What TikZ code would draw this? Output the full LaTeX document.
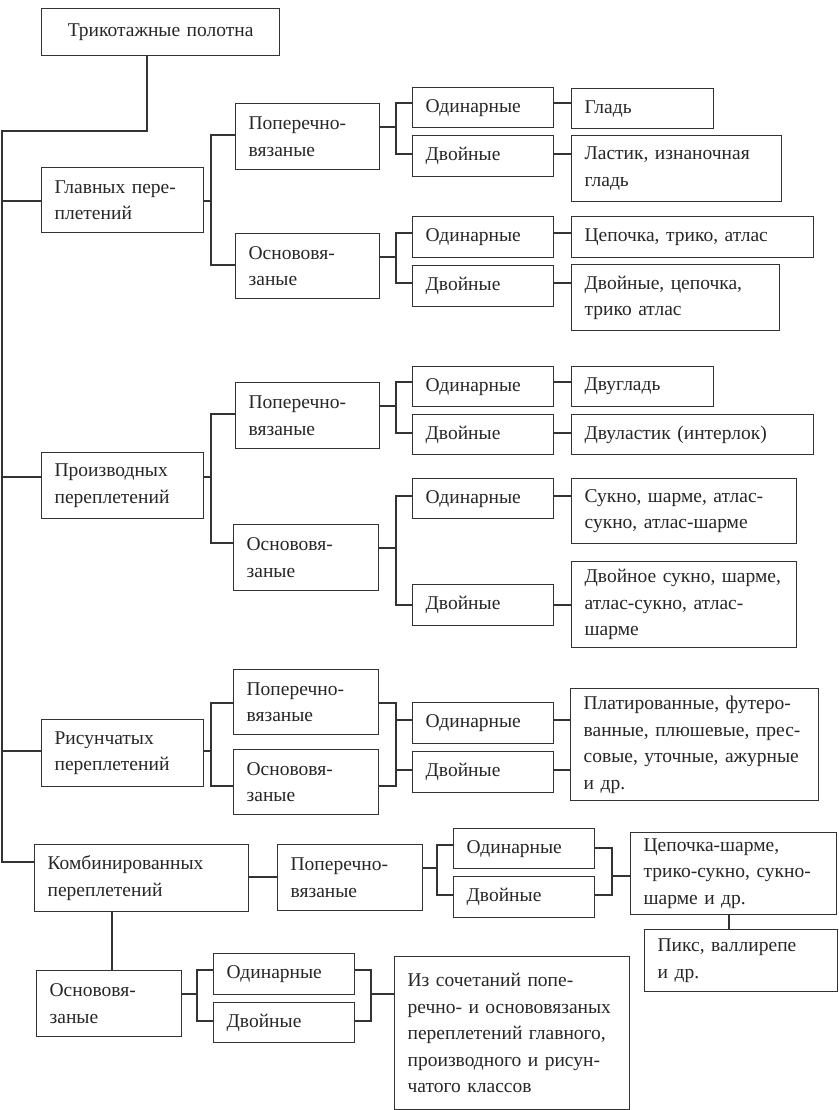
\documentclass[tikz,border=0pt]{standalone}
\usepackage{fontspec}
\setmainfont{Liberation Serif}
\newcommand\ml[1]{\mbox{#1}}
\tikzset{
  box/.style={draw=black!80, line width=1.3pt, text=black!85, inner xsep=13pt, inner ysep=0pt,
    anchor=north west, align=left, font=\fontsize{19.5}{26.5}\selectfont},
  ln/.style={draw=black!80, line width=1.3pt}
}
\newcommand\bx[6]{%
  \pgfmathsetmacro\bxw{#4-#2-26}%
  \pgfmathsetmacro\bxh{#5-#3}%
  \node[box, text width=\bxw pt, minimum height=\bxh pt] (#1) at (#2,#3) {#6};}
\newcommand\brk[7]{%
  \coordinate (#1-a) at (#4,#5);
  \coordinate (#1-b) at (#4,#6);
  \coordinate (#1-m) at (#4,#7);
  \draw[ln] (#2.west |- #1-a) -- (#1-a) -- (#1-b) -- (#3.west |- #1-b);
  \draw[ln] (#1.east |- #1-m) -- (#1-m);}
\begin{document}
\begin{tikzpicture}[x=1pt,y=-1pt]
\useasboundingbox (0,0) rectangle (838,1110);

\node[box, align=center, text width=212pt, minimum height=47pt] (top) at (41,8) {Трикотажные полотна};

% --- Главных
\bx{g1}{41}{167}{203}{232}{\ml{Главных пере-}\\\ml{плетений}}
\bx{g1p}{235}{103}{379}{169}{\ml{Поперечно-}\\\ml{вязаные}}
\bx{g1o}{235}{233}{379}{298}{\ml{Основовя-}\\\ml{заные}}
\bx{g1p1}{412}{87}{553}{127}{Одинарные}
\bx{g1p2}{412}{135}{553}{176}{Двойные}
\bx{l1}{571}{88}{713}{128}{Гладь}
\bx{l2}{571}{135}{781}{201}{\ml{Ластик, изнаночная}\\\ml{гладь}}
\bx{g1o1}{412}{216}{553}{257}{Одинарные}
\bx{g1o2}{412}{265}{553}{306}{Двойные}
\bx{l3}{571}{216}{813}{257}{\ml{Цепочка, трико, атлас}}
\bx{l4}{571}{264}{779}{330}{\ml{Двойные, цепочка,}\\\ml{трико атлас}}

\brk{g1}{g1p}{g1o}{211}{135}{265}{201}
\brk{g1p}{g1p1}{g1p2}{396}{103}{154}{127}
\brk{g1o}{g1o1}{g1o2}{396}{233}{283}{257}
\draw[ln] (g1p1.east |- g1p-a) -- (l1.west |- g1p-a);
\draw[ln] (g1p2.east |- g1p-b) -- (l2.west |- g1p-b);
\draw[ln] (g1o1.east |- g1o-a) -- (l3.west |- g1o-a);
\draw[ln] (g1o2.east |- g1o-b) -- (l4.west |- g1o-b);

% --- Производных
\bx{g2}{41}{452}{203}{518}{\ml{Производных}\\\ml{переплетений}}
\bx{g2p}{235}{382}{379}{448}{\ml{Поперечно-}\\\ml{вязаные}}
\bx{g2o}{233}{524}{378}{590}{\ml{Основовя-}\\\ml{заные}}
\bx{g2p1}{412}{366}{553}{406}{Одинарные}
\bx{g2p2}{412}{414}{553}{454}{Двойные}
\bx{l5}{571}{366}{713}{406}{Двугладь}
\bx{l6}{571}{414}{813}{454}{\ml{Двуластик (интерлок)}}
\bx{g2o1}{412}{478}{553}{518}{Одинарные}
\bx{g2o2}{412}{584}{553}{625}{Двойные}
\bx{l7}{571}{478}{796}{543}{\ml{Сукно, шарме, атлас-}\\\ml{сукно, атлас-шарме}}
\bx{l8}{571}{561}{796}{647}{\ml{Двойное сукно, шарме,}\\\ml{атлас-сукно, атлас-}\\\ml{шарме}}

\brk{g2}{g2p}{g2o}{211}{414}{543}{477}
\brk{g2p}{g2p1}{g2p2}{396}{382}{433}{406}
\brk{g2o}{g2o1}{g2o2}{396}{496}{605}{548}
\draw[ln] (g2p1.east |- g2p-a) -- (l5.west |- g2p-a);
\draw[ln] (g2p2.east |- g2p-b) -- (l6.west |- g2p-b);
\draw[ln] (g2o1.east |- g2o-a) -- (l7.west |- g2o-a);
\draw[ln] (g2o2.east |- g2o-b) -- (l8.west |- g2o-b);

% --- Рисунчатых
\bx{g3}{41}{719}{203}{786}{\ml{Рисунчатых}\\\ml{переплетений}}
\bx{g3p}{233}{669}{378}{734}{\ml{Поперечно-}\\\ml{вязаные}}
\bx{g3o}{233}{749}{378}{814}{\ml{Основовя-}\\\ml{заные}}
\bx{g3c1}{412}{702}{553}{743}{Одинарные}
\bx{g3c2}{412}{751}{553}{792}{Двойные}
\bx{l9}{570}{688}{818}{800}{\ml{Платированные, футеро-}\\\ml{ванные, плюшевые, прес-}\\\ml{совые, уточные, ажурные}\\\ml{и др.}}

\brk{g3}{g3p}{g3o}{211}{703}{786}{751}
\coordinate (r-a) at (396,703);
\coordinate (r-b) at (396,786);
\coordinate (r-c) at (396,720);
\coordinate (r-d) at (396,770);
\draw[ln] (g3p.east |- r-a) -- (r-a) -- (r-b) -- (g3o.east |- r-b);
\draw[ln] (r-c) -- (g3c1.west |- r-c);
\draw[ln] (r-d) -- (g3c2.west |- r-d);
\draw[ln] (g3c1.east |- r-c) -- (l9.west |- r-c);
\draw[ln] (g3c2.east |- r-d) -- (l9.west |- r-d);

% --- Комбинированных
\bx{g4}{34}{844}{248}{911}{\ml{Комбинированных}\\\ml{переплетений}}
\bx{g4p}{277}{844}{422}{910}{\ml{Поперечно-}\\\ml{вязаные}}
\bx{g4p1}{453}{828}{594}{868}{Одинарные}
\bx{g4p2}{453}{876}{594}{917}{Двойные}
\bx{l10}{630}{832}{836}{914}{\ml{Цепочка-шарме,}\\\ml{трико-сукно, сукно-}\\\ml{шарме и др.}}
\bx{l11}{644}{929}{837}{991}{\ml{Пикс, валлирепе}\\\ml{и др.}}
\bx{g5}{36}{970}{181}{1036}{\ml{Основовя-}\\\ml{заные}}
\bx{g5c1}{213}{953}{354}{994}{Одинарные}
\bx{g5c2}{213}{1002}{354}{1042}{Двойные}
\bx{l12}{394}{956}{629}{1109}{\ml{Из сочетаний попе-}\\\ml{речно- и основовязаных}\\\ml{переплетений главного,}\\\ml{производного и рисун-}\\\ml{чатого классов}}

\coordinate (k1) at (262,877);
\draw[ln] (g4.east |- k1) -- (g4p.west |- k1);
\brk{g4p}{g4p1}{g4p2}{437}{845}{895}{868}
\coordinate (q-a) at (612,848);
\coordinate (q-b) at (612,895);
\coordinate (q-m) at (612,876);
\draw[ln] (g4p1.east |- q-a) -- (q-a) -- (q-b) -- (g4p2.east |- q-b);
\draw[ln] (q-m) -- (l10.west |- q-m);
\coordinate (v1) at (729,0);
\draw[ln] (l10.south -| v1) -- (l11.north -| v1);
\coordinate (v2) at (112,0);
\draw[ln] (g4.south -| v2) -- (g5.north -| v2);
\brk{g5}{g5c1}{g5c2}{197}{970}{1021}{994}
\coordinate (s-a) at (371,970);
\coordinate (s-b) at (371,1021);
\coordinate (s-m) at (371,994);
\draw[ln] (g5c1.east |- s-a) -- (s-a) -- (s-b) -- (g5c2.east |- s-b);
\draw[ln] (s-m) -- (l12.west |- s-m);

% --- trunk
\coordinate (tk1) at (147,131);
\coordinate (tk2) at (2,131);
\coordinate (tk3) at (2,862);
\draw[ln] (top.south -| tk1) -- (tk1) -- (tk2) -- (tk3) -- (g4.west |- tk3);
\coordinate (tr1) at (2,201);
\coordinate (tr2) at (2,477);
\coordinate (tr3) at (2,751);
\draw[ln] (tr1) -- (g1.west |- tr1);
\draw[ln] (tr2) -- (g2.west |- tr2);
\draw[ln] (tr3) -- (g3.west |- tr3);
\end{tikzpicture}
\end{document}
